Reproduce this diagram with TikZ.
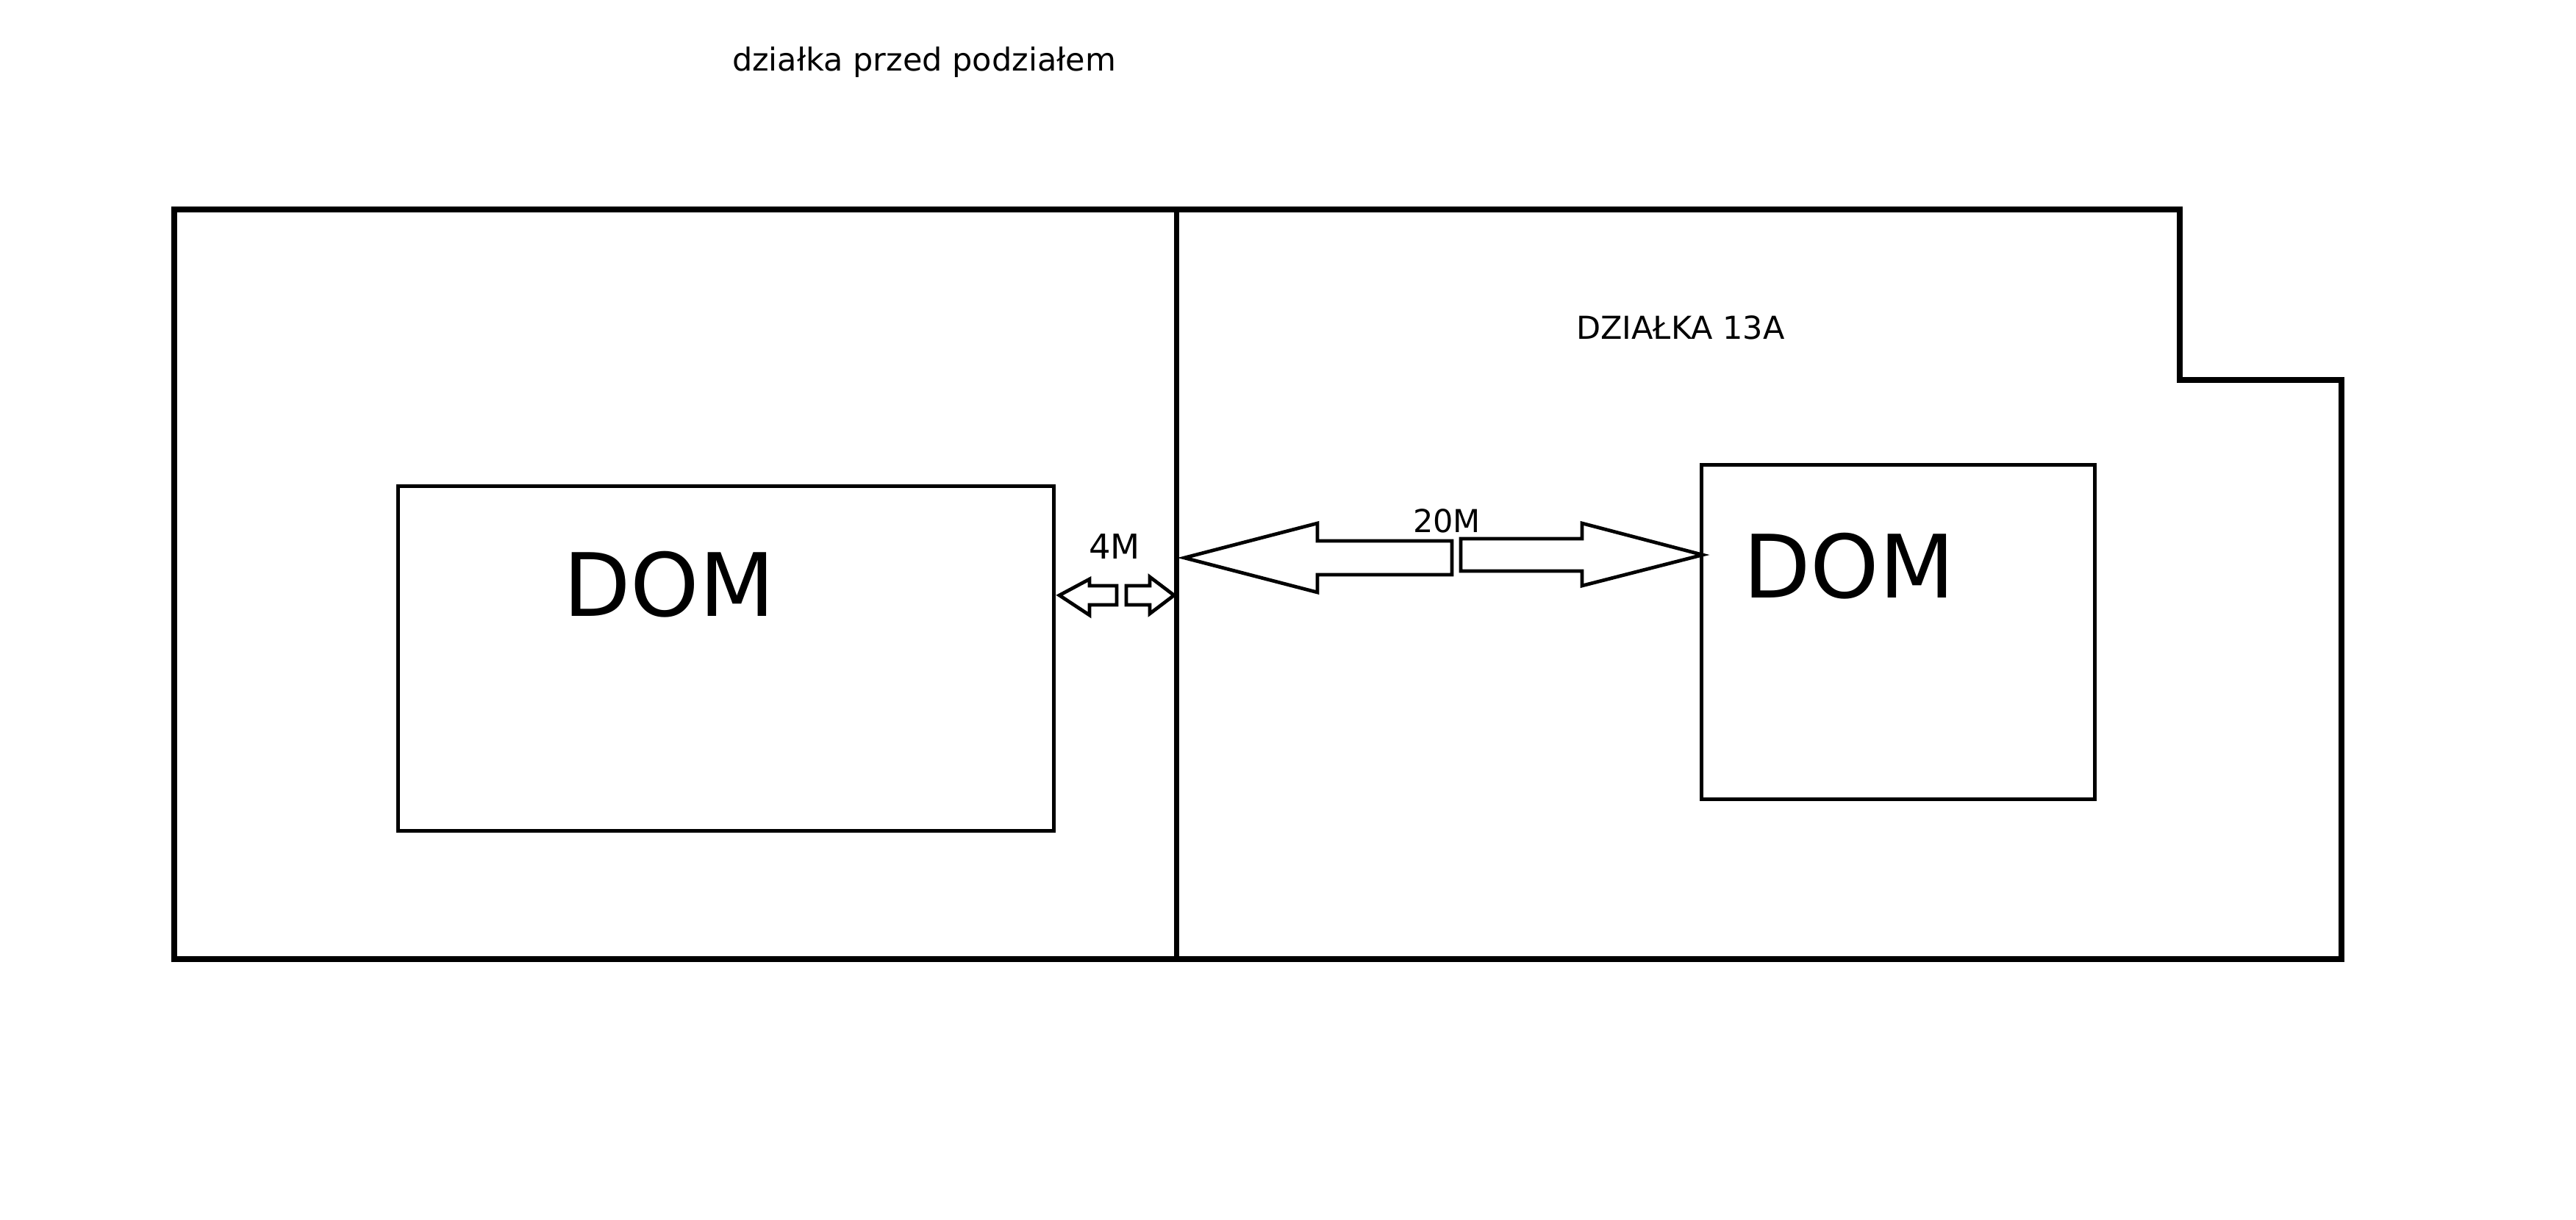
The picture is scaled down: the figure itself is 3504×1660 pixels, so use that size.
\documentclass[tikz,border=0pt]{standalone}
\usepackage{fontspec}
\setmainfont{DejaVu Sans}
\begin{document}
\begin{tikzpicture}[x=0.2pt,y=-0.2pt,
  plot/.style={line width=1.6pt, line join=miter},
  divider/.style={line width=1.4pt},
  house/.style={line width=1pt, line join=miter},
  blockarrow/.style={line width=0.95pt, line join=miter, fill=white},
  lbl/.style={anchor=base, inner sep=0pt},
  small/.style={font=\fontsize{8.6pt}{10pt}\selectfont},
  mid/.style={font=\fontsize{9.3pt}{11pt}\selectfont},
  big/.style={font=\fontsize{23.8pt}{28pt}\selectfont}]
\useasboundingbox (0,0) rectangle (3504,1660);
% outer plot
\draw[plot] (237,285) -- (2965,285) -- (2965,517) -- (3185,517) -- (3185,1305) -- (237,1305) -- cycle;
\coordinate (divTop) at (1600,285);
\coordinate (divBot) at (1600,1305);
\draw[divider] (divTop) -- (divBot);
% houses
\draw[house] (541,662) rectangle (1433,1131);
\draw[house] (2314,633) rectangle (2849,1088);
% texts
\node[lbl,small] (title) at (1257,97) {działka przed podziałem};
\node[lbl,small] (plotname) at (2286,462) {DZIAŁKA 13A};
\node[lbl,big] (domL) at (910,839) {DOM};
\node[lbl,big] (domR) at (2515,814) {DOM};
\node[lbl,mid] (fourM) at (1516,761) {4M};
\node[lbl,small] (twentyM) at (1968,725) {20M};
% small arrows (4M)
\draw[blockarrow] (1441,810) -- (1482,788) -- (1482,797) -- (1519,797) -- (1519,823) -- (1482,823) -- (1482,837) -- cycle;
\draw[blockarrow] (1532,797) -- (1564,797) -- (1564,785) -- (1597,810) -- (1564,835) -- (1564,823) -- (1532,823) -- cycle;
% big arrows (20M)
\draw[blockarrow] (1611,759) -- (1792,712) -- (1792,736) -- (1975,736) -- (1975,782) -- (1792,782) -- (1792,806) -- cycle;
\draw[blockarrow] (1987,733) -- (2152,733) -- (2152,712) -- (2316,755) -- (2152,797) -- (2152,777) -- (1987,777) -- cycle;
\end{tikzpicture}
\end{document}
